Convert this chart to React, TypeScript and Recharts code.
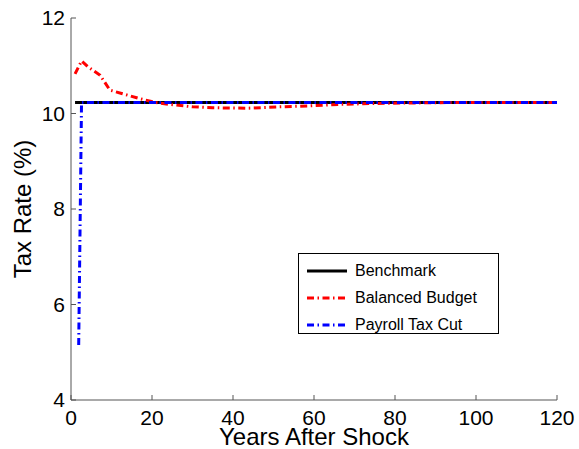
import { LineChart, Line, XAxis, YAxis, Legend } from "recharts";

// years after the shock / tax rate in percent
const benchmarkYears = [1, 120];
const benchmarkRate = [10.23, 10.23];

const balancedYears = [1, 2.6, 4.3, 7.2, 9.6, 12.5, 17, 21, 24.4, 30, 35, 43.5, 51.6, 59, 66, 74.5, 83, 95, 120];
const balancedRate = [10.83, 11.1, 10.97, 10.8, 10.49, 10.42, 10.31, 10.23, 10.19, 10.14, 10.12, 10.11, 10.14, 10.16, 10.19, 10.21, 10.22, 10.23, 10.23];

const payrollYears = [1.9, 2.6, 120];
const payrollRate = [5.15, 10.23, 10.23];

const xTicks = [0, 20, 40, 60, 80, 100, 120];
const yTicks = [4, 6, 8, 10, 12];

const FONT = '"Liberation Sans", Arial, Helvetica, sans-serif';
const DASH_DOT = "7 3.5 1.5 3.5";

const toRows = (xs: number[], ys: number[]) => xs.map((year, i) => ({ year, rate: ys[i] }));

const series = [
  { name: "Benchmark", color: "#000000", dash: undefined as string | undefined, data: toRows(benchmarkYears, benchmarkRate) },
  { name: "Balanced Budget", color: "#ff0000", dash: DASH_DOT, data: toRows(balancedYears, balancedRate) },
  { name: "Payroll Tax Cut", color: "#0000ff", dash: DASH_DOT, data: toRows(payrollYears, payrollRate) },
];

// tick text drawn directly so the size sticks
const XTick = ({ x, y, payload }: any) => (
  <text x={x} y={y} dy="0.71em" textAnchor="middle" fontSize={21} fontFamily={FONT} fill="#000">
    {payload.value}
  </text>
);

const YTick = ({ x, y, payload }: any) => (
  <text x={x} y={y} dy="0.355em" textAnchor="end" fontSize={21} fontFamily={FONT} fill="#000">
    {payload.value}
  </text>
);

function LegendBox() {
  return (
    <div
      style={{
        width: 201,
        height: 81,
        boxSizing: "border-box",
        border: "1px solid #000",
        background: "#fff",
        paddingTop: 3,
        fontFamily: FONT,
        fontSize: 16,
        color: "#000",
      }}
    >
      {series.map((s) => (
        <div key={s.name} style={{ display: "flex", alignItems: "center", height: 27 }}>
          <svg width={50} height={10} style={{ display: "block" }}>
            <line x1={8} x2={48} y1={5} y2={5} stroke={s.color} strokeWidth={3} strokeDasharray={s.dash} />
          </svg>
          <span style={{ marginLeft: 6, lineHeight: "16px" }}>{s.name}</span>
        </div>
      ))}
    </div>
  );
}

export default function App() {
  return (
    <div style={{ position: "absolute", left: 0, top: 0, width: 579, height: 449, background: "#fff" }}>
      <LineChart width={579} height={449} margin={{ top: 18, right: 22, bottom: 0, left: 0 }}>
        <XAxis
          type="number"
          dataKey="year"
          domain={[0, 120]}
          ticks={xTicks}
          height={49}
          tickSize={-5}
          tickMargin={15}
          stroke="#555"
          tick={<XTick />}
          label={{ value: "Years After Shock", position: "insideBottom", offset: 4, fill: "#000", fontSize: 24, fontFamily: FONT }}
        />
        <YAxis
          type="number"
          domain={[4, 12]}
          ticks={yTicks}
          width={71}
          tickSize={-5}
          tickMargin={11}
          stroke="#555"
          tick={<YTick />}
          label={{
            value: "Tax Rate (%)",
            angle: -90,
            position: "insideLeft",
            offset: 22,
            fill: "#000",
            fontSize: 24,
            fontFamily: FONT,
            style: { textAnchor: "middle" },
          }}
        />
        <Legend
          layout="vertical"
          align="center"
          verticalAlign="middle"
          wrapperStyle={{ left: 298, top: 253, width: 201, height: 81 }}
          content={() => <LegendBox />}
        />
        {series.map((s) => (
          <Line
            key={s.name}
            data={s.data}
            dataKey="rate"
            name={s.name}
            type="linear"
            stroke={s.color}
            strokeWidth={3}
            strokeDasharray={s.dash}
            dot={false}
            activeDot={false}
            isAnimationActive={false}
          />
        ))}
      </LineChart>
    </div>
  );
}
